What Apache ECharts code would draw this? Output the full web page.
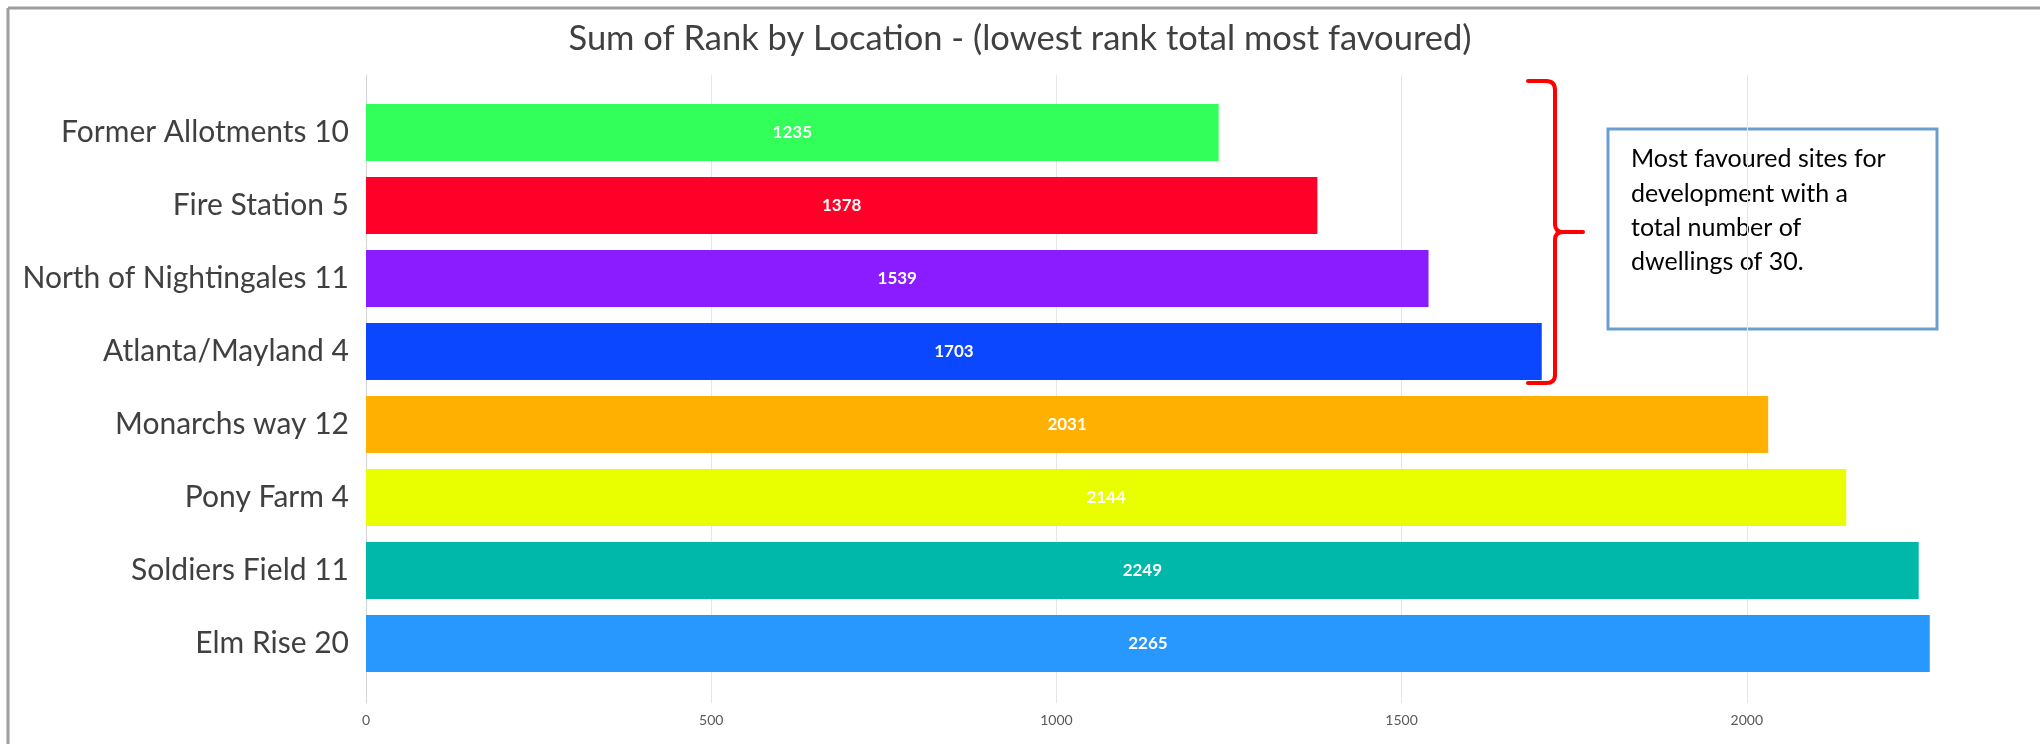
<!DOCTYPE html>
<html>
<head>
<meta charset="utf-8">
<style>
  html, body { margin: 0; padding: 0; background: #ffffff; }
  #chart { width: 2040px; height: 744px; }
</style>
<script src="https://cdn.jsdelivr.net/npm/echarts@6/dist/echarts.min.js"></script>
</head>
<body>
<div id="chart"></div>
<script>
// ---- data ----
const categories = [
  'Former Allotments 10',
  'Fire Station 5',
  'North of Nightingales 11',
  'Atlanta/Mayland 4',
  'Monarchs way 12',
  'Pony Farm 4',
  'Soldiers Field 11',
  'Elm Rise 20'
];
const sumOfRank = [1235, 1378, 1539, 1703, 2031, 2144, 2249, 2265];
const barColors = ['#33FF5A', '#FF0029', '#8A1CFF', '#0A47FF', '#FFB000', '#E9FF00', '#00B8AA', '#2898FF'];
const xTicks = [0, 500, 1000, 1500, 2000, 2500];
const titleText = 'Sum of Rank by Location - (lowest rank total most favoured)';
const noteLines = ['Most favoured sites for', 'development with a', 'total number of', 'dwellings of 30.'];

const chart = echarts.init(document.getElementById('chart'), null, { renderer: 'canvas' });

const xMin = xTicks[0];
const xMax = xTicks[xTicks.length - 1];
const xInterval = xTicks[1] - xTicks[0];

const braceStyle = { stroke: '#FF0000', lineWidth: 4, lineCap: 'round' };
function braceLine(x1, y1, x2, y2) {
  return { type: 'line', shape: { x1, y1, x2, y2 }, style: braceStyle };
}
function braceCurve(x1, y1, cpx1, cpy1, x2, y2) {
  return { type: 'bezierCurve', shape: { x1, y1, cpx1, cpy1, x2, y2 }, style: Object.assign({ fill: null }, braceStyle) };
}

const option = {
  backgroundColor: '#ffffff',
  animation: false,
  title: {
    text: titleText,
    left: 'center',
    top: 16,
    textStyle: { fontFamily: 'Lato', fontSize: 34.5, fontWeight: 'normal', color: '#404040' }
  },
  grid: [
    { left: 366, width: 1726, top: 75, height: 628, containLabel: false, outerBoundsMode: 'none' },
    { left: 366, width: 1726, top: 96, height: 584, containLabel: false, outerBoundsMode: 'none' }
  ],
  xAxis: [
    {
      gridIndex: 0, type: 'value', min: xMin, max: xMax, interval: xInterval,
      axisLine: { show: false }, axisTick: { show: false },
      splitLine: { show: true, lineStyle: { color: '#e6e6e6', width: 1 } },
      axisLabel: {
        fontFamily: 'Lato', fontSize: 14, color: '#595959', margin: 10,
        formatter: (v) => String(v)
      }
    },
    {
      gridIndex: 1, type: 'value', min: xMin, max: xMax, interval: xInterval,
      show: false, splitLine: { show: false }
    }
  ],
  yAxis: [
    {
      gridIndex: 0, type: 'value', min: 0, max: 1,
      axisLine: { show: true, lineStyle: { color: '#d4d4d4', width: 1 } },
      axisTick: { show: false }, axisLabel: { show: false }, splitLine: { show: false }
    },
    {
      gridIndex: 1, type: 'category', data: categories, inverse: true,
      axisLine: { show: false }, axisTick: { show: false }, splitLine: { show: false },
      axisLabel: { fontFamily: 'Lato', fontSize: 30, color: '#404040', margin: 17 }
    }
  ],
  series: [
    {
      type: 'bar',
      xAxisIndex: 1, yAxisIndex: 1,
      barWidth: 57,
      data: sumOfRank.map((v, i) => ({ value: v, itemStyle: { color: barColors[i] } })),
      label: {
        show: true, position: 'inside',
        color: '#ffffff', fontFamily: 'Lato', fontWeight: 'bold', fontSize: 17
      }
    }
  ],
  graphic: [
    // frame lines
    { type: 'line', shape: { x1: 8, y1: 8, x2: 2040, y2: 8 }, style: { stroke: '#9e9e9e', lineWidth: 3 } },
    { type: 'line', shape: { x1: 8, y1: 8, x2: 8, y2: 744 }, style: { stroke: '#9e9e9e', lineWidth: 3 } },
    // red brace
    braceLine(1528, 81, 1546, 81),
    braceCurve(1546, 81, 1555, 81, 1555, 90),
    braceLine(1555, 90, 1555, 224),
    braceCurve(1555, 224, 1555, 232, 1563, 232),
    braceLine(1563, 232, 1583, 232),
    braceCurve(1563, 232, 1555, 232, 1555, 240),
    braceLine(1555, 240, 1555, 375),
    braceCurve(1555, 375, 1555, 383, 1546, 383),
    braceLine(1546, 383, 1528, 383),
    // annotation box
    {
      type: 'rect',
      shape: { x: 1608, y: 129, width: 329, height: 200 },
      style: { fill: '#ffffff', stroke: '#6A9FCF', lineWidth: 3 }
    },
    {
      type: 'text',
      x: 1631, y: 142,
      style: {
        text: noteLines.join('\n'),
        fontFamily: 'Lato', fontSize: 25, lineHeight: 34.3,
        fill: '#000000', textAlign: 'left', textVerticalAlign: 'top'
      }
    }
  ]
};

chart.setOption(option);
</script>
</body>
</html>
